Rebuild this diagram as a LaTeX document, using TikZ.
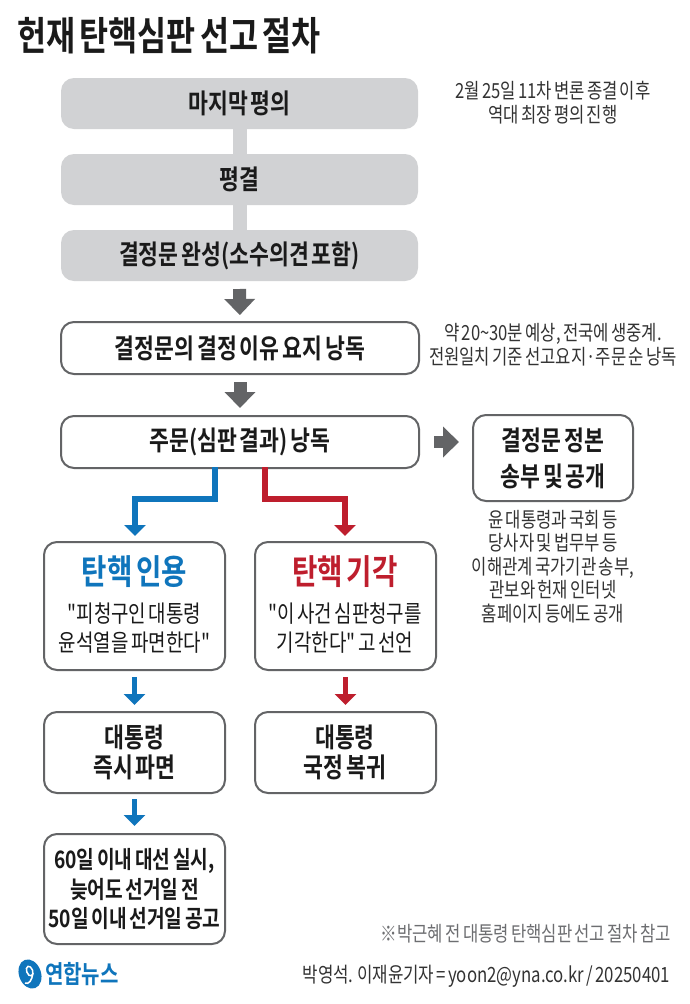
\documentclass[tikz,border=0pt]{standalone}
\usepackage{fontspec}
\usetikzlibrary{arrows.meta,calc}
\setmainfont{Noto Sans CJK KR}[FakeStretch=0.8,WordSpace=0.6,Ligatures=TeXOff,BoldFont={Noto Sans CJK KR Bold},ItalicFont={Noto Sans CJK KR}]
\definecolor{grayfill}{HTML}{D1D2D4}
\definecolor{edgegray}{HTML}{636466}
\definecolor{ybblue}{HTML}{0F75BC}
\definecolor{ybred}{HTML}{BE1E2D}
\definecolor{notegray}{HTML}{6D6E71}
\definecolor{txt}{HTML}{1A1A1A}
\newcommand{\fs}[1]{\fontsize{#1}{#1}\selectfont}
\tikzset{
 x=1pt,y=-1pt,
 every node/.style={inner sep=0pt,outer sep=0pt,text=txt,align=center},
 flatbox/.style={fill=grayfill,rounded corners=13pt,anchor=north west},
 linebox/.style={draw=edgegray,line width=2pt,fill=white,rounded corners=13pt,anchor=north west},
 main/.style={font=\fs{27}\bfseries},
 mid/.style={font=\fs{24}\bfseries},
 note/.style={font=\fs{20.8},text=black!80,execute at begin node={\baselineskip=23.5pt}},
 link/.style={grayfill,line width=14pt},
 bigarrow/.style={edgegray,line width=13pt,-{Triangle[width=30pt,length=16pt]}},
 bluearrow/.style={ybblue,line width=5.5pt,-{Triangle[width=21pt,length=11pt]}},
 redarrow/.style={ybred,line width=5.5pt,-{Triangle[width=21pt,length=11pt]}},
}
\begin{document}
\begin{tikzpicture}
\useasboundingbox (0,0) rectangle (690,1004);
\fill[white] (0,0) rectangle (690,1004);
\node[anchor=west,font=\fs{39.5}\bfseries] (title) at (17,36) {헌재 탄핵심판 선고 절차};

\node[flatbox,minimum width=357pt,minimum height=51pt] (a) at (61,78) {};
\node[flatbox,minimum width=357pt,minimum height=51pt] (b) at (61,154) {};
\node[flatbox,minimum width=357pt,minimum height=51pt] (c) at (61,230) {};
\draw[link] (a.south) -- (b.north);
\draw[link] (b.south) -- (c.north);
\node[main] (at) at (a.center) {마지막 평의};
\node[main] (bt) at (b.center) {평결};
\node[main] (ct) at (c.center) {결정문 완성(소수의견 포함)};

\node[linebox,minimum width=358pt,minimum height=52pt] (d) at (61,322) {};
\node[main] (dt) at (d.center) {결정문의 결정 이유 요지 낭독};
\node[linebox,minimum width=358pt,minimum height=52pt] (e) at (61,416) {};
\node[main] (et) at (e.center) {주문(심판 결과) 낭독};
\node[linebox,minimum width=160pt,minimum height=86pt] (f) at (473,415) {};
\node[main,execute at begin node={\baselineskip=36pt}] (ft) at (f.center) {결정문 정본\\송부 및 공개};

\draw[bigarrow,shorten <=8pt,shorten >=7pt] (c.south) -- (d.north);
\draw[bigarrow,shorten <=8pt,shorten >=8pt] (d.south) -- (e.north);
\draw[bigarrow,line width=12pt,shorten <=15pt,shorten >=14pt] (e.east) -- (e.east -| f.west);

\node[linebox,minimum width=181pt,minimum height=128pt] (g) at (44,542) {};
\node[linebox,minimum width=181pt,minimum height=128pt] (h) at (255,542) {};
\node[linebox,minimum width=181pt,minimum height=81pt] (i) at (44,712) {};
\node[linebox,minimum width=181pt,minimum height=81pt] (j) at (255,712) {};
\node[linebox,minimum width=181pt,minimum height=110pt] (k) at (44,834) {};

\coordinate (bs) at (215,467);
\coordinate (rs) at (265,467);
\draw[bluearrow,rounded corners=0pt,shorten >=6pt] (bs) -- (215,499) -- (135,499) -- (g.north -| 135,499);
\draw[redarrow,rounded corners=0pt,shorten >=6pt] (rs) -- (265,499) -- (345,499) -- (h.north -| 345,499);
\draw[bluearrow,shorten <=7pt,shorten >=7pt] (g.south -| i.north) -- (i.north);
\draw[redarrow,shorten <=7pt,shorten >=7pt] (h.south -| j.north) -- (j.north);
\draw[bluearrow,shorten <=6pt,shorten >=8pt] (i.south) -- (k.north);

\node[font=\fs{34.5}\bfseries,text=ybblue] (gh) at (134.5,572) {탄핵 인용};
\node[font=\fs{34.5}\bfseries,text=ybred] (hh) at (345,572) {탄핵 기각};
\node[font=\fs{23.7},execute at begin node={\baselineskip=29.5pt}] (gt) at (134.5,628) {"피청구인 대통령\\윤석열을 파면한다"};
\node[font=\fs{23.7},execute at begin node={\baselineskip=29.5pt}] (ht) at (345,628) {"이 사건 심판청구를\\기각한다" 고 선언};
\node[main,execute at begin node={\baselineskip=29.5pt}] (it) at (134.5,752.5) {대통령\\즉시 파면};
\node[main,execute at begin node={\baselineskip=29.5pt}] (jt) at (345,752.5) {대통령\\국정 복귀};
\node[mid,execute at begin node={\baselineskip=29.5pt}] (kt) at (134.5,889) {60일 이내 대선 실시,\\늦어도 선거일 전\\50일 이내 선거일 공고};

\node[note] (n1) at (553,102.5) {2월 25일 11차 변론 종결 이후\\역대 최장 평의 진행};
\node[note] (n2) at (553,345) {약 20\textasciitilde30분 예상, 전국에 생중계.\\전원일치 기준 선고요지·주문 순 낭독};
\node[note] (n3) at (553,566.5) {윤 대통령과 국회 등\\당사자 및 법무부 등\\이해관계 국가기관 송부,\\관보와 헌재 인터넷\\홈페이지 등에도 공개};

\node[font=\fs{20.8},text=notegray,anchor=east] (n4) at (671,934) {※박근혜 전 대통령 탄핵심판 선고 절차 참고};
\node[font=\fs{21},text=black!80,anchor=east] (n5) at (670,976) {박영석. 이재윤기자 = yoon2@yna.co.kr / 20250401};

\node[font=\fs{25}\bfseries,text=ybblue,anchor=west] (logo) at (45,974) {연합뉴스};
\fill[ybblue,rotate around={20:(30,974)}] (30,974) ellipse (11pt and 15pt);
\draw[white,line width=1.5pt,rotate around={20:(30,972)}] (30,971) ellipse (3pt and 5pt);
\draw[white,line width=1.5pt] (33,973) .. controls (32,980) and (29,985) .. (25,983);
\end{tikzpicture}
\end{document}
